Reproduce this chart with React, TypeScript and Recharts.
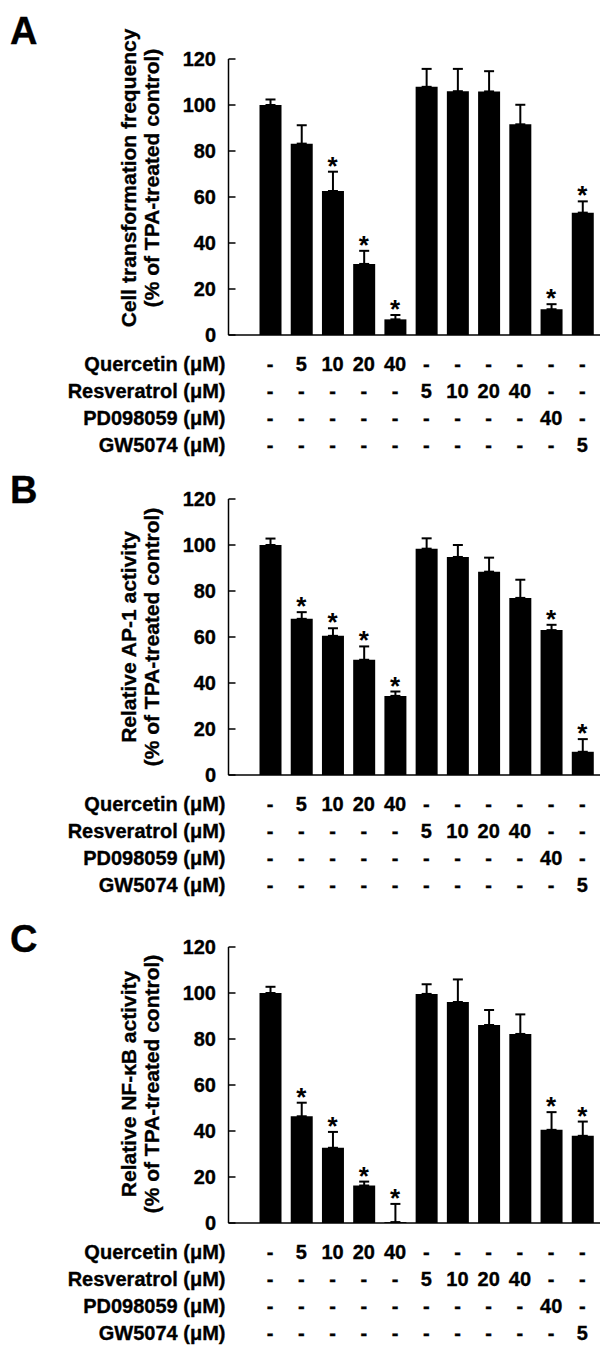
import React from 'react';
import { ComposedChart, Bar, XAxis, YAxis, ErrorBar, Scatter } from 'recharts';

// ---------- data ----------
const categories = ['g1', 'g2', 'g3', 'g4', 'g5', 'g6', 'g7', 'g8', 'g9', 'g10', 'g11'];
const quercetinDoses = ['-', '5', '10', '20', '40', '-', '-', '-', '-', '-', '-'];
const resveratrolDoses = ['-', '-', '-', '-', '-', '5', '10', '20', '40', '-', '-'];
const pd098059Doses = ['-', '-', '-', '-', '-', '-', '-', '-', '-', '40', '-'];
const gw5074Doses = ['-', '-', '-', '-', '-', '-', '-', '-', '-', '-', '5'];
const rowLabels = ['Quercetin (\u03bcM)', 'Resveratrol (\u03bcM)', 'PD098059 (\u03bcM)', 'GW5074 (\u03bcM)'];
const yTicks = [0, 20, 40, 60, 80, 100, 120];

const transformMean = [100, 83.2, 62.6, 30.9, 6.8, 107.9, 106.0, 105.9, 91.6, 11.2, 53.2];
const transformSem = [2.4, 8.0, 8.4, 5.7, 1.9, 7.8, 9.7, 8.8, 8.5, 2.2, 4.9];
const transformSig = [false, false, true, true, true, false, false, false, false, true, true];

const ap1Mean = [100, 67.9, 60.5, 50.1, 34.4, 98.4, 94.8, 88.4, 77.0, 63.0, 10.1];
const ap1Sem = [2.8, 2.9, 3.3, 5.8, 1.9, 4.5, 5.2, 6.1, 7.9, 2.3, 5.5];
const ap1Sig = [false, true, true, true, true, false, false, false, false, true, true];

const nfkbMean = [100, 46.4, 32.7, 16.3, 0.4, 99.6, 96.1, 86.1, 82.2, 40.5, 37.9];
const nfkbSem = [2.7, 5.9, 6.9, 1.7, 7.9, 4.2, 9.8, 6.5, 8.5, 7.7, 6.2];
const nfkbSig = [false, true, true, true, true, false, false, false, false, true, true];

const doseRows = [quercetinDoses, resveratrolDoses, pd098059Doses, gw5074Doses];

// ---------- styling ----------
const FONT = '"Liberation Sans", Arial, Helvetica, sans-serif';
const TXT = 20;
const BOLDEN = { stroke: '#000', strokeWidth: 0.35 };

const YTick = (props: any) => {
  const { x, y, payload } = props;
  return (
    <g>
      <line x1={x + 12.5} x2={x + 19.5} y1={y} y2={y} stroke="#000" strokeWidth={1.5} />
      <text x={x} y={y} dy="0.36em" textAnchor="end" fontFamily={FONT} fontSize={TXT} fontWeight="bold" fill="#000" {...BOLDEN}>
        {payload.value}
      </text>
    </g>
  );
};

const makeRowTick = (labels: string[]) => (props: any) => {
  const { x, y, payload } = props;
  const idx = categories.indexOf(payload.value);
  return (
    <text x={x} y={y} dy="0.71em" textAnchor="middle" fontFamily={FONT} fontSize={TXT} fontWeight="bold" fill="#000" {...BOLDEN}>
      {labels[idx]}
    </text>
  );
};

const makeRowLabel = (text: string) => (props: any) => {
  const vb = props.viewBox || {};
  return (
    <text x={vb.x - 3} y={vb.y} dy="0.71em" textAnchor="end" fontFamily={FONT} fontSize={TXT} fontWeight="bold" fill="#000" {...BOLDEN}>
      {text}
    </text>
  );
};

const StarShape = (props: any) => {
  const { cx, cy, payload } = props;
  if (!payload || payload.star == null || cx == null || cy == null || isNaN(cy)) return <g />;
  return (
    <text x={cx} y={cy + 3} textAnchor="middle" fontFamily={FONT} fontSize={26} fontWeight="bold" fill="#000">
      *
    </text>
  );
};

type PanelProps = {
  top: number;
  letter: string;
  letterBaseline: number;
  lines: string[];
  labelCenterY: number;
  mean: number[];
  sem: number[];
  sig: boolean[];
};

const Panel = ({ top, letter, letterBaseline, lines, labelCenterY, mean, sem, sig }: PanelProps) => {
  const data = categories.map((c, i) => ({
    cat: c,
    value: mean[i],
    err: [0, sem[i]],
    star: sig[i] ? mean[i] + sem[i] : null,
  }));
  const yLabel = () => (
    <g>
      <text x={10} y={letterBaseline} fontFamily={FONT} fontSize={38} fontWeight="bold" fill="#000" {...BOLDEN}>
        {letter}
      </text>
      <text
        transform={`translate(128, ${labelCenterY}) rotate(-90)`}
        textAnchor="middle"
        dominantBaseline="central"
        fontFamily={FONT}
        fontSize={21}
        fontWeight="bold"
        fill="#000"
        {...BOLDEN}
      >
        {lines[0]}
      </text>
      <text
        transform={`translate(151, ${labelCenterY}) rotate(-90)`}
        textAnchor="middle"
        dominantBaseline="central"
        fontFamily={FONT}
        fontSize={21}
        fontWeight="bold"
        fill="#000"
        {...BOLDEN}
      >
        {lines[1]}
      </text>
    </g>
  );
  const rowHeights = [27, 27, 27, 19];
  return (
    <div style={{ position: 'absolute', left: 0, top, width: 600, height: 457 }}>
      <ComposedChart width={600} height={457} data={data} margin={{ top: 59, right: 0, bottom: 0, left: 0 }}>
        <YAxis
          width={228.5}
          domain={[0, 120]}
          ticks={yTicks}
          interval={0}
          tickLine={false}
          tickSize={0}
          tickMargin={12.5}
          axisLine={{ stroke: '#000', strokeWidth: 1.5 }}
          tick={YTick}
          label={yLabel}
          allowDataOverflow
        />
        <XAxis
          xAxisId="main"
          dataKey="cat"
          height={22}
          padding={{ left: 26, right: 2 }}
          tick={false}
          tickLine={false}
          axisLine={{ stroke: '#000', strokeWidth: 1.5 }}
        />
        {doseRows.map((row, r) => (
          <XAxis
            key={r}
            xAxisId={`row${r}`}
            dataKey="cat"
            height={rowHeights[r]}
            padding={{ left: 26, right: 2 }}
            interval={0}
            tickLine={false}
            axisLine={false}
            tickSize={0}
            tickMargin={0}
            tick={makeRowTick(row)}
            label={makeRowLabel(rowLabels[r])}
          />
        ))}
        <Bar xAxisId="main" dataKey="value" fill="#000" barSize={22} isAnimationActive={false}>
          <ErrorBar dataKey="err" direction="y" width={5} stroke="#000" strokeWidth={2} />
        </Bar>
        <Scatter xAxisId="main" dataKey="star" shape={StarShape} isAnimationActive={false} />
      </ComposedChart>
    </div>
  );
};

export default function App() {
  return (
    <div style={{ position: 'absolute', left: 0, top: 0, width: 600, height: 1345, overflow: 'hidden', background: '#fff' }}>
      <Panel
        top={0}
        letter="A"
        letterBaseline={44}
        lines={['Cell transformation frequency', '(% of TPA-treated control)']}
        labelCenterY={178}
        mean={transformMean}
        sem={transformSem}
        sig={transformSig}
      />
      <Panel
        top={440}
        letter="B"
        letterBaseline={63}
        lines={['Relative AP-1 activity', '(% of TPA-treated control)']}
        labelCenterY={197}
        mean={ap1Mean}
        sem={ap1Sem}
        sig={ap1Sig}
      />
      <Panel
        top={888}
        letter="C"
        letterBaseline={64}
        lines={['Relative NF-\u03baB activity', '(% of TPA-treated control)']}
        labelCenterY={196}
        mean={nfkbMean}
        sem={nfkbSem}
        sig={nfkbSig}
      />
    </div>
  );
}
